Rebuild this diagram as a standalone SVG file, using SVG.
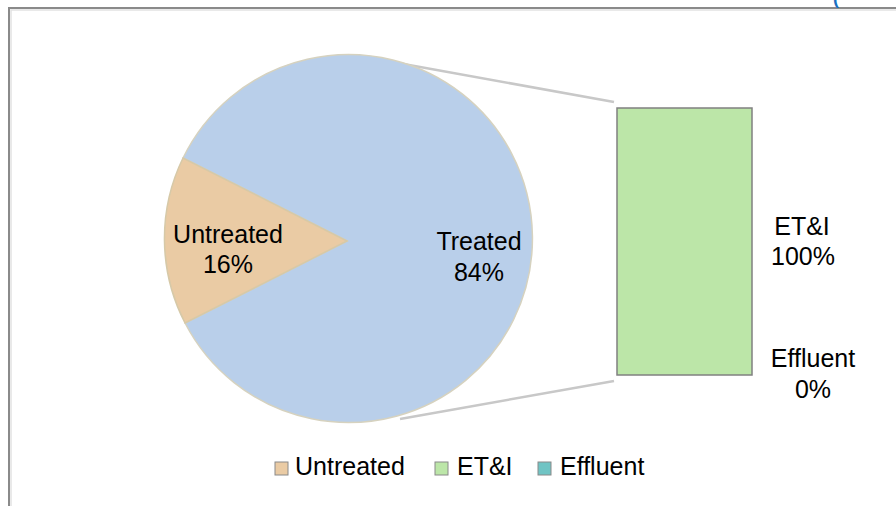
<svg xmlns="http://www.w3.org/2000/svg" width="896" height="506" viewBox="0 0 896 506">
<style>
.t{font-family:"Liberation Sans",Arial,sans-serif;font-size:25px;fill:#000}
.c{text-anchor:middle}
.conn{stroke:#c8c8c8;stroke-width:2.5;fill:none}
.sw{stroke:#8a8a8a;stroke-width:1}
</style>
<rect x="0" y="0" width="896" height="506" fill="#fff"/>
<g id="frame">
<path d="M9,506 V8 H896" fill="none" stroke="#8a8a8a" stroke-width="2"/>
<path d="M11,506 V10 H896" fill="none" stroke="#e2e2e2" stroke-width="1.5"/>
<text x="833" y="4" font-family="Liberation Sans,Arial,sans-serif" font-size="18" font-weight="bold" fill="#1a6fc0">(</text>
</g>
<g id="connectors">
<line class="conn" x1="398" y1="63" x2="614" y2="102"/>
<line class="conn" x1="400" y1="419" x2="614" y2="381"/>
</g>
<g id="treated">
<path d="M347,241 L183,158 A184,184 0 1 1 185,323 Z" fill="#b9cfea" stroke="#d6d2bf" stroke-width="1.5"/>
<text class="t c" x="479" y="250">Treated</text>
<text class="t c" x="479" y="281">84%</text>
</g>
<g id="untreated">
<path d="M347,241 L183,158 A184,184 0 0 0 185,323 Z" fill="#eacba4" stroke="#d6c9a8" stroke-width="1.5"/>
<text class="t c" x="228" y="243">Untreated</text>
<text class="t c" x="228" y="273">16%</text>
</g>
<g id="eti">
<rect x="617" y="108" width="135" height="267" fill="#bce6a8" stroke="#808080" stroke-width="1.5"/>
<text class="t c" x="802" y="235">ET&amp;I</text>
<text class="t c" x="803" y="265">100%</text>
</g>
<g id="effluent">
<text class="t c" x="813" y="367">Effluent</text>
<text class="t c" x="813" y="398">0%</text>
</g>
<g id="legend">
<rect class="sw" x="275" y="462" width="13" height="13" fill="#eacba4"/>
<text class="t" x="295" y="475">Untreated</text>
<rect class="sw" x="435" y="462" width="13" height="13" fill="#bce6a8"/>
<text class="t" x="457" y="475">ET&amp;I</text>
<rect class="sw" x="538" y="462" width="13" height="13" fill="#70c4c4"/>
<text class="t" x="560" y="475">Effluent</text>
</g>
</svg>
